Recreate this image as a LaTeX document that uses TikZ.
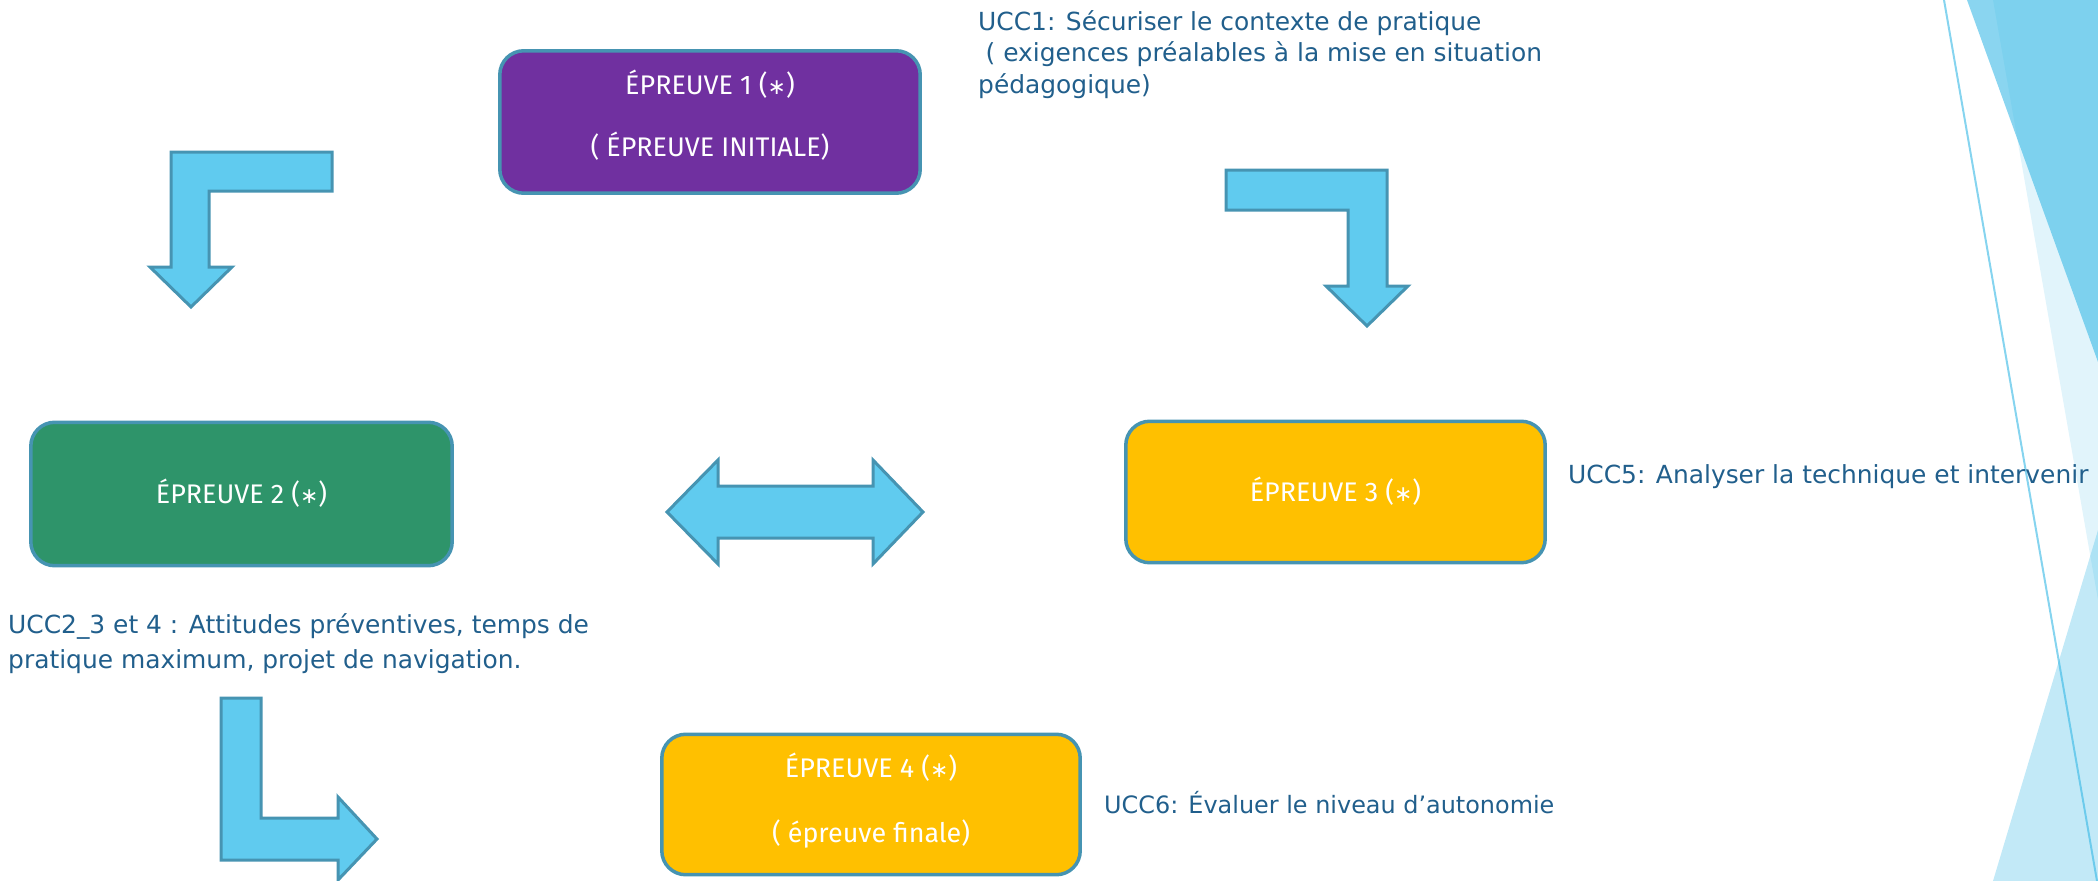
\documentclass[tikz,border=0pt]{standalone}
\usepackage{fontspec}
\setmainfont{DejaVu Sans}
\newfontfamily\boxfont{Fira Sans}
\newfontfamily\symfont{DejaVu Sans}
\definecolor{decoblue}{RGB}{53,183,229}
\definecolor{epurple}{RGB}{112,48,160}
\definecolor{egreen}{RGB}{46,148,106}
\definecolor{eyellow}{RGB}{255,192,0}
\definecolor{eborder}{RGB}{70,148,178}
\definecolor{arrowfill}{RGB}{96,203,239}
\definecolor{labelblue}{RGB}{33,95,140}
\newcommand{\starsym}{{\symfont\fontsize{22}{22}\selectfont ∗}}
\tikzset{
  ebox/.style={draw=eborder, line width=3.5bp, rounded corners=24bp, inner sep=0pt,
    text=white, align=center, font=\boxfont\fontsize{27}{32}\selectfont},
  blockarrow/.style={draw=eborder, line width=3bp, fill=arrowfill, line join=miter},
  ucclabel/.style={text=labelblue, align=left, inner sep=0pt, anchor=base west},
}
\begin{document}
\begin{tikzpicture}[x=1bp,y=-1bp]
\useasboundingbox (0,0) rectangle (2098,881);
% background decoration
\fill[decoblue, fill opacity=0.15] (1993,0) -- (2098,0) -- (2098,600) -- cycle;
\fill[decoblue, fill opacity=0.58] (1967,0) -- (2098,0) -- (2098,362) -- cycle;
\fill[decoblue, fill opacity=0.30] (1993,881) -- (2098,530) -- (2098,881) -- cycle;
\draw[decoblue, draw opacity=0.6, line width=2bp] (1944,0) -- (2097,881);
% boxes
\node[ebox, fill=epurple, minimum width=422, minimum height=143, text height=74bp, text depth=6bp] (e1) at (710,122)
  {ÉPREUVE 1 (\starsym)\\[30bp]( ÉPREUVE INITIALE)};
\node[ebox, fill=egreen, minimum width=423, minimum height=144, text height=18bp, text depth=0bp] (e2) at (241.5,494)
  {ÉPREUVE 2 (\starsym)};
\node[ebox, fill=eyellow, minimum width=421, minimum height=142, text height=18bp, text depth=0bp] (e3) at (1335.5,492)
  {ÉPREUVE 3 (\starsym)};
\node[ebox, fill=eyellow, minimum width=420, minimum height=141, text height=81bp, text depth=6bp] (e4) at (871,804.5)
  {ÉPREUVE 4 (\starsym)\\[33bp]( épreuve finale)};
% block arrows
\draw[blockarrow] (332,152) -- (171,152) -- (171,267) -- (150,267) -- (191,307) -- (232,267) -- (209,267) -- (209,191) -- (332,191) -- cycle;
\draw[blockarrow] (1226,170) -- (1387,170) -- (1387,286) -- (1408,286) -- (1367,326) -- (1326,286) -- (1348,286) -- (1348,210) -- (1226,210) -- cycle;
\draw[blockarrow] (667,512) -- (718,460) -- (718,486) -- (873,486) -- (873,460) -- (923,512) -- (873,564) -- (873,538) -- (718,538) -- (718,564) -- cycle;
\draw[blockarrow] (221,698) -- (261,698) -- (261,818) -- (338,818) -- (338,797) -- (377,839) -- (338,880) -- (338,860) -- (221,860) -- cycle;
% labels
\node[ucclabel, font=\fontsize{25}{31.5}\selectfont] (u1) at (978,93)
  {UCC1: Sécuriser le contexte de pratique\\\hspace*{0.3em}( exigences préalables à la mise en situation\\pédagogique)};
\node[ucclabel, font=\fontsize{25}{35}\selectfont] (u2) at (8,668)
  {UCC2\_3 et 4 : Attitudes préventives, temps de\\pratique maximum, projet de navigation.};
\node[ucclabel, font=\fontsize{25}{30}\selectfont] (u5) at (1568,483)
  {UCC5: Analyser la technique et intervenir};
\node[ucclabel, font=\fontsize{24}{30}\selectfont] (u6) at (1104,813)
  {UCC6: Évaluer le niveau d’autonomie};
\end{tikzpicture}
\end{document}
